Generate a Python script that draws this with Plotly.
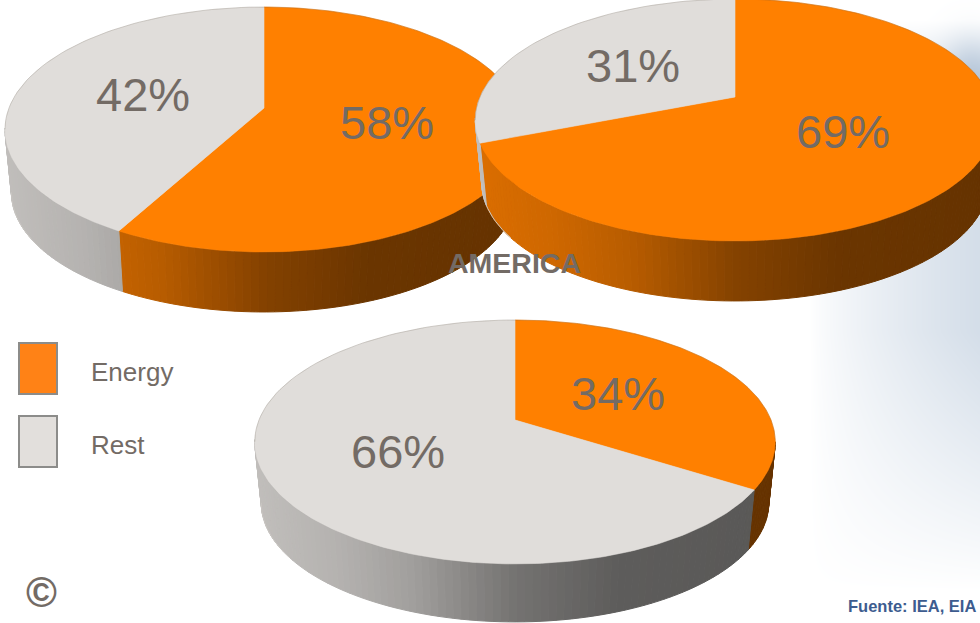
import numpy as np
import plotly.graph_objects as go

# Share of each region's total, in percent
energy_shares = [58, 69, 34]
rest_shares = [42, 31, 66]
legend_labels = ["Energy", "Rest"]
region_title = "AMERICA"
source_note = "Fuente: IEA, EIA"

ORANGE = "#FF8000"
GREY = "#E0DDDA"
INK = "#736B65"
W, H = 980, 623

# Disc placement: hub position, half width, depth, perspective, side height
discs = [
    dict(cx=264, cy=108, r=255, s=118.7, k=0.1755, h=60),
    dict(cx=735, cy=97, r=255, s=116.6, k=0.19, h=60),
    dict(cx=515, cy=420, r=256, s=118.0, k=0.18, h=58),
]
# Label anchors for (energy, rest) on each disc
label_pos = [((387, 122), (143, 94)), ((843, 131), (633, 65)), ((618, 393), (398, 451))]

SHADE_F = [0, 0.15, 0.30, 0.50, 0.70, 1.0]
SHADE_V = [0.86, 0.81, 0.72, 0.52, 0.42, 0.40]


def rim(d, deg):
    """Project clockwise-from-top angles on the disc's rim to page coordinates."""
    t = np.radians(deg)
    u, v = np.sin(t), np.cos(t)
    w = 1 + d["k"] * v
    return d["cx"] + d["r"] * u / w, d["cy"] - d["s"] * v / w


def shaded(hex_colour, factor):
    rgb = [int(hex_colour[i:i + 2], 16) for i in (1, 3, 5)]
    return "rgb({},{},{})".format(*[int(c * factor) for c in rgb])


def poly(xs, ys, colour, line=0.6):
    return go.Scatter(x=xs, y=ys, mode="lines", fill="toself", fillcolor=colour,
                      line=dict(color=colour, width=line), hoverinfo="skip",
                      showlegend=False)


fig = go.Figure()

# Soft blue haze behind the right-hand side of the page
gx = np.linspace(770, 980, 71)
gy = np.linspace(0, 623, 125)
X, Y = np.meshgrid(gx, gy)
haze = (
    np.clip((X - 810) / 170, 0, 1) ** 0.75
    * np.clip((Y - 20) / 60, 0, 1)
    * np.clip((590 - Y) / 260, 0, 1) ** 0.9
    * 0.58
    + 0.45 * np.exp(-(((X - 970) / 28) ** 2 + ((Y - 70) / 36) ** 2))
)
fig.add_trace(go.Heatmap(x=gx, y=gy, z=np.clip(haze, 0, 1), zmin=0, zmax=1, zsmooth="best",
                         colorscale=[[0, "#FFFFFF"], [1, "#B4C5D8"]], showscale=False,
                         hoverinfo="skip"))

for d, energy in zip(discs, energy_shares):
    split = energy * 3.6
    probe = np.arange(0, 360, 0.25)
    px, _ = rim(d, probe)
    left_t, right_t = probe[np.argmin(px)], probe[np.argmax(px)]
    left_x, right_x = px.min(), px.max()

    # Side wall: narrow strips swept along the front of the rim
    grid = np.arange(right_t, left_t + 1.5, 1.5)
    if right_t < split < left_t:
        grid = np.unique(np.append(grid, split))
    _, rim_y = rim(d, np.array([180.0]))
    shrink = 0.975
    lift = d["h"] + (1 - shrink) * (rim_y[0] - d["cy"])
    for a, b in zip(grid[:-1], grid[1:]):
        seg = np.array([a, b])
        tx, ty = rim(d, seg)
        bx = d["cx"] + (tx - d["cx"]) * shrink
        by = d["cy"] + (ty - d["cy"]) * shrink + lift
        f = ((tx.mean() - left_x) / (right_x - left_x))
        base = ORANGE if (a + b) / 2 < split else GREY
        colour = shaded(base, float(np.interp(f, SHADE_F, SHADE_V)))
        fig.add_trace(poly(list(tx) + list(bx[::-1]) + [tx[0]],
                           list(ty) + list(by[::-1]) + [ty[0]], colour, 1.0))

    # Pale seam down the left end of the side wall
    seam = np.arange(left_t, left_t - 28, -2.0)
    sx, sy = rim(d, seam)
    fig.add_trace(go.Scatter(
        x=d["cx"] + (sx - d["cx"]) * shrink, y=d["cy"] + (sy - d["cy"]) * shrink + lift,
        mode="lines", line=dict(color="#C9C6C2", width=1), hoverinfo="skip", showlegend=False))

    # Top face: energy slice runs clockwise from twelve o'clock, the rest closes the disc
    for start, stop, colour in ((0, split, ORANGE), (split, 360, GREY)):
        arc = np.linspace(start, stop, 240)
        ax, ay = rim(d, arc)
        fig.add_trace(poly([d["cx"], *ax, d["cx"]], [d["cy"], *ay, d["cy"]], colour))

    # Fine outline along the back of the top face
    back = np.arange(left_t, right_t + 361, 2.0)
    back = back[back <= right_t + 360]
    bx_, by_ = rim(d, back)
    fig.add_trace(go.Scatter(x=bx_, y=by_, mode="lines",
                             line=dict(color="rgba(95,85,75,0.28)", width=0.8),
                             hoverinfo="skip", showlegend=False))

annotations = []


def note(x, y, text, size, colour=INK, family="Liberation Sans", anchor="center", bold=False):
    annotations.append(dict(x=x, y=y, xref="x", yref="y", showarrow=False, xanchor=anchor,
                            yanchor="middle", text=f"<b>{text}</b>" if bold else text,
                            font=dict(size=size, color=colour, family=family)))


for (e_pos, r_pos), e, r in zip(label_pos, energy_shares, rest_shares):
    note(e_pos[0], e_pos[1], f"{e}%", 47)
    note(r_pos[0], r_pos[1], f"{r}%", 47)

note(514, 263, region_title, 28.5, bold=True)
note(89, 372, legend_labels[0], 26, anchor="left")
note(89, 445, legend_labels[1], 26, anchor="left")
note(41, 592, "©", 42, bold=True)
note(978, 606, source_note, 16.5, colour="#3D5C8F", anchor="right", bold=True)

# Legend swatches
swatches = [
    dict(type="rect", x0=19, x1=57, y0=343, y1=394, fillcolor="#FF8216",
         line=dict(color="#8C8C8A", width=2), layer="above"),
    dict(type="rect", x0=19, x1=57, y0=416, y1=467, fillcolor="#E2DFDC",
         line=dict(color="#8C8C8A", width=2), layer="above"),
]

fig.update_layout(
    width=W, height=H, margin=dict(l=0, r=0, t=0, b=0), autosize=False,
    paper_bgcolor="white", plot_bgcolor="white", showlegend=False,
    xaxis=dict(range=[0, W], visible=False, fixedrange=True),
    yaxis=dict(range=[H, 0], visible=False, fixedrange=True),
    annotations=annotations, shapes=swatches,
)

fig.write_html("out.html", config=dict(displayModeBar=False))
